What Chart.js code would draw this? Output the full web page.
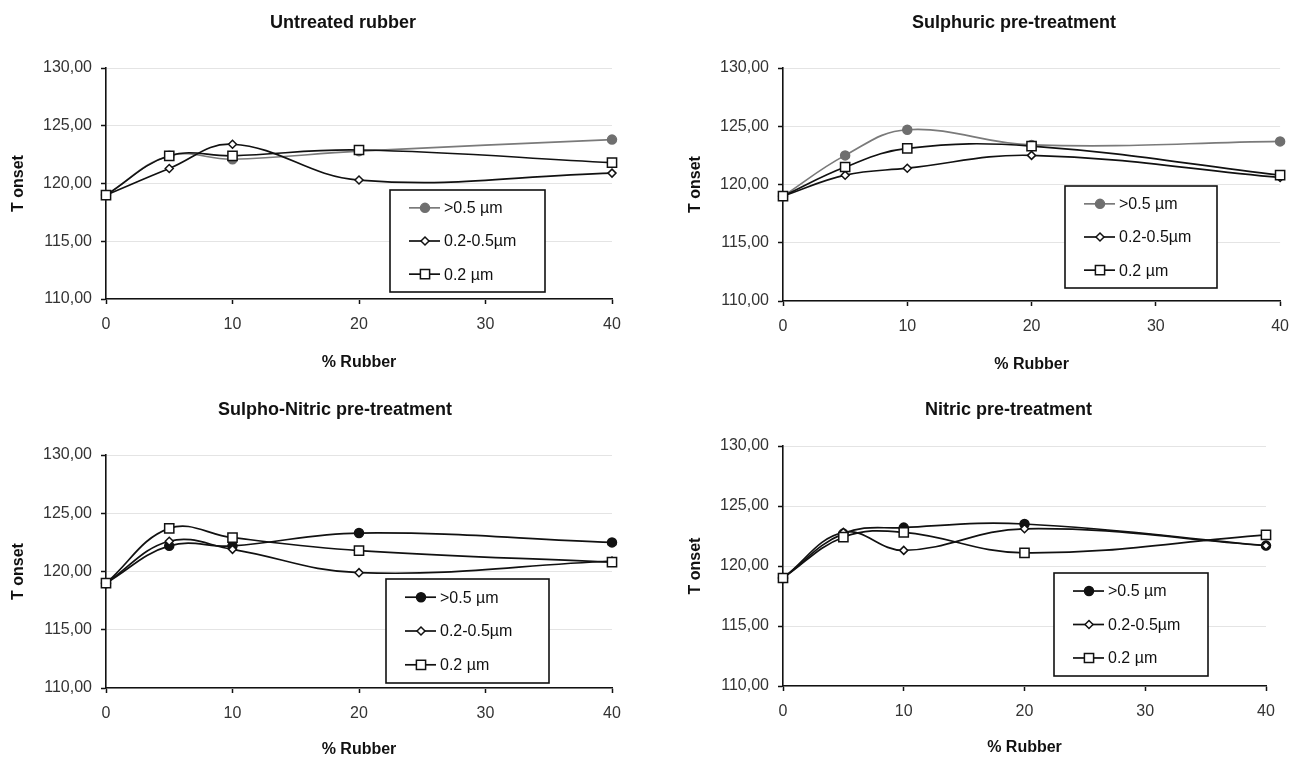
<!DOCTYPE html>
<html><head><meta charset="utf-8">
<script src="https://cdn.jsdelivr.net/npm/chart.js@4/dist/chart.umd.min.js"></script>
<style>
body{margin:0;background:#fff;width:1300px;height:761px;overflow:hidden;position:relative}
.p{position:absolute}
</style></head><body>
<div class="p" style="left:0;top:0;width:650px;height:380px"><canvas id="c1"></canvas></div>
<div class="p" style="left:650px;top:0;width:650px;height:380px"><canvas id="c2"></canvas></div>
<div class="p" style="left:0;top:380px;width:650px;height:381px"><canvas id="c3"></canvas></div>
<div class="p" style="left:650px;top:380px;width:650px;height:381px"><canvas id="c4"></canvas></div>
<script>
// ---- data ----
const rubberPct = [0, 5, 10, 20, 40];
const seriesNames = ['>0.5 \u00b5m', '0.2-0.5\u00b5m', '0.2 \u00b5m'];
const xTickValues = [0, 10, 20, 30, 40];
const yTickValues = [110, 115, 120, 125, 130];

const untreatedLarge  = [119.0, 122.4, 122.1, 122.8, 123.8];
const untreatedMid    = [119.0, 121.3, 123.4, 120.3, 120.9];
const untreatedSmall  = [119.0, 122.4, 122.4, 122.9, 121.8];

const sulphuricLarge  = [119.0, 122.5, 124.7, 123.4, 123.7];
const sulphuricMid    = [119.0, 120.8, 121.4, 122.5, 120.6];
const sulphuricSmall  = [119.0, 121.5, 123.1, 123.3, 120.8];

const sulphoNitricLarge = [119.0, 122.2, 122.2, 123.3, 122.5];
const sulphoNitricMid   = [119.0, 122.6, 121.9, 119.9, 120.9];
const sulphoNitricSmall = [119.0, 123.7, 122.9, 121.8, 120.8];

const nitricLarge  = [119.0, 122.7, 123.2, 123.5, 121.7];
const nitricMid    = [119.0, 122.8, 121.3, 123.1, 121.7];
const nitricSmall  = [119.0, 122.4, 122.8, 121.1, 122.6];

// ---- rendering ----
const FAMILY = '"Liberation Sans", Arial, Helvetica, sans-serif';
Chart.defaults.font.family = FAMILY;
Chart.defaults.color = '#222';

const boxLegend = {
  id: 'boxLegend',
  afterDraw(chart, args, opts) {
    const ctx = chart.ctx, b = opts.box;
    ctx.save();
    ctx.fillStyle = '#fff';
    ctx.fillRect(b.x, b.y, b.w, b.h);
    ctx.strokeStyle = '#111'; ctx.lineWidth = 1.6;
    ctx.strokeRect(b.x, b.y, b.w, b.h);
    chart.data.datasets.forEach((ds, i) => {
      const cy = b.y + b.h * (0.175 + 0.325 * i);
      ctx.strokeStyle = ds.borderColor; ctx.lineWidth = ds.borderWidth;
      ctx.beginPath(); ctx.moveTo(b.x + 19, cy); ctx.lineTo(b.x + 50, cy); ctx.stroke();
      ctx.fillStyle = ds.pointBackgroundColor; ctx.strokeStyle = ds.pointBorderColor;
      ctx.lineWidth = ds.pointBorderWidth;
      Chart.helpers.drawPoint(ctx, {pointStyle: ds.pointStyle, radius: ds.pointRadius, borderWidth: ds.pointBorderWidth, rotation: 0}, b.x + 35, cy);
      ctx.fillStyle = '#111';
      ctx.font = '16px ' + FAMILY;
      ctx.textAlign = 'left'; ctx.textBaseline = 'middle';
      ctx.fillText(ds.label, b.x + 54, cy + 1);
    });
    ctx.restore();
  }
};

const panelTitle = {
  id: 'panelTitle',
  afterDraw(chart, args, opts) {
    const ctx = chart.ctx;
    ctx.save();
    ctx.fillStyle = '#111';
    ctx.font = 'bold 18px ' + FAMILY;
    ctx.textAlign = 'left'; ctx.textBaseline = 'middle';
    ctx.fillText(opts.text, opts.x, opts.y);
    ctx.restore();
  }
};

function makeChart(id, title, series, geo, grayFirst) {
  const styles = [
    {ps: 'circle', r: 4.5, bg: grayFirst ? '#6f6f6f' : '#111', bc: grayFirst ? '#6f6f6f' : '#111', line: grayFirst ? '#7a7a7a' : '#111', order: 3},
    {ps: 'rectRot', r: 4, bg: '#fff', bc: '#111', line: '#111', order: 2},
    {ps: 'rect', r: 6.5, bg: '#fff', bc: '#111', line: '#111', order: 1}
  ];
  const datasets = series.map((vals, i) => ({
    label: seriesNames[i],
    data: rubberPct.map((x, j) => ({x: x, y: vals[j]})),
    order: styles[i].order,
    borderColor: styles[i].line,
    borderWidth: 1.7,
    pointStyle: styles[i].ps,
    pointRadius: styles[i].r,
    pointBackgroundColor: styles[i].bg,
    pointBorderColor: styles[i].bc,
    pointBorderWidth: 1.5,
    tension: 0.4,
    fill: false,
    clip: false
  }));
  return new Chart(document.getElementById(id), {
    type: 'line',
    data: {datasets},
    options: {
      responsive: true, maintainAspectRatio: false, animation: false,
      layout: {padding: {left: geo.L - geo.yw, right: geo.W - geo.R, top: geo.T, bottom: geo.H - geo.B - geo.xh}},
      plugins: {
        legend: {display: false}, tooltip: {enabled: false},
        boxLegend: {box: geo.legend},
        panelTitle: {text: title, x: geo.tx, y: geo.ty}
      },
      scales: {
        x: {
          type: 'linear', min: 0, max: 40,
          afterBuildTicks: s => { s.ticks = xTickValues.map(v => ({value: v})); },
          afterFit: s => { s.height = geo.xh; },
          ticks: {color: '#333', font: {size: 16}, padding: 11, maxRotation: 0},
          grid: {drawOnChartArea: false, drawTicks: true, tickLength: 5, tickColor: '#111', tickWidth: 1.5},
          border: {color: '#111', width: 1.6},
          title: {display: true, text: '% Rubber', color: '#111', font: {size: 16, weight: 'bold'}, padding: {top: 0, bottom: 2}}
        },
        y: {
          type: 'linear', min: 110, max: 130,
          afterBuildTicks: s => { s.ticks = yTickValues.map(v => ({value: v})); },
          afterFit: s => { s.width = geo.yw; },
          ticks: {color: '#333', font: {size: 16}, padding: 9, callback: v => v.toFixed(2).replace('.', ',')},
          grid: {color: '#e4e4e4', lineWidth: 1, tickLength: 5, tickColor: '#111', tickWidth: 1.5},
          border: {color: '#111', width: 1.6},
          title: {display: true, text: 'T onset', color: '#111', font: {size: 16, weight: 'bold'}, padding: {top: 9, bottom: 0}}
        }
      }
    },
    plugins: [boxLegend, panelTitle]
  });
}

makeChart('c1', 'Untreated rubber', [untreatedLarge, untreatedMid, untreatedSmall],
  {W: 650, H: 380, L: 106, R: 612, T: 68, B: 299, yw: 106, xh: 75, tx: 270, ty: 23,
   legend: {x: 390, y: 190, w: 155, h: 102}}, true);
makeChart('c2', 'Sulphuric pre-treatment', [sulphuricLarge, sulphuricMid, sulphuricSmall],
  {W: 650, H: 380, L: 133, R: 637, T: 68, B: 301, yw: 106, xh: 75, tx: 262, ty: 23,
   legend: {x: 415, y: 186, w: 152, h: 102}}, true);
makeChart('c3', 'Sulpho-Nitric pre-treatment', [sulphoNitricLarge, sulphoNitricMid, sulphoNitricSmall],
  {W: 650, H: 381, L: 106, R: 612, T: 75, B: 308, yw: 106, xh: 73, tx: 218, ty: 30,
   legend: {x: 386, y: 199, w: 163, h: 104}}, false);
makeChart('c4', 'Nitric pre-treatment', [nitricLarge, nitricMid, nitricSmall],
  {W: 650, H: 381, L: 133, R: 616, T: 66, B: 306, yw: 106, xh: 73, tx: 275, ty: 30,
   legend: {x: 404, y: 193, w: 154, h: 103}}, false);
</script>
</body></html>
